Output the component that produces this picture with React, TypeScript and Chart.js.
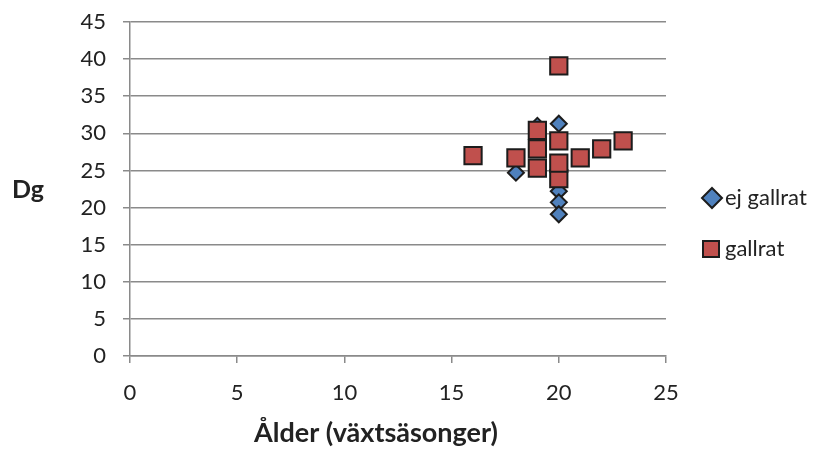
import { useEffect, useRef } from "react";
import { Chart, registerables } from "chart.js";

Chart.register(...registerables);

// Age (growing seasons) and Dg for the two treatments
const ejGallratAge = [18, 19, 20, 20, 20, 20];
const ejGallratDg = [24.7, 31.0, 31.3, 22.2, 20.7, 19.1];
const gallratAge = [16, 18, 19, 19, 19, 20, 20, 20, 20, 21, 22, 23];
const gallratDg = [27.0, 26.7, 30.4, 27.9, 25.3, 39.1, 29.0, 23.9, 26.0, 26.7, 27.9, 29.0];

const seriesNames = ["ej gallrat", "gallrat"];
const xTitle = "Ålder (växtsäsonger)";
const yTitle = "Dg";
const xMin = 0, xMax = 25, xStep = 5;
const yMin = 0, yMax = 45, yStep = 5;

const BLUE = "#4F81BD";
const RED = "#C0504D";
const EDGE = "#1c1c1c";
const GRID = "#8a8a8a";
const TEXT = "#222222";
const FONT = "Lato, 'Open Sans', sans-serif";

const toPoints = (xs: number[], ys: number[]) => xs.map((x, i) => ({ x, y: ys[i] }));

// Horizontal axis titles and the legend on the right
const decorPlugin = {
  id: "decor",
  afterDraw(chart: any) {
    const { ctx, chartArea } = chart;
    ctx.save();
    ctx.fillStyle = TEXT;
    ctx.font = `bold 27px ${FONT}`;
    ctx.textAlign = "center";
    ctx.textBaseline = "alphabetic";
    ctx.fillText(xTitle, (chartArea.left + chartArea.right) / 2 - 22, 442);
    ctx.textAlign = "left";
    ctx.font = `bold 25px ${FONT}`;
    ctx.fillText(yTitle, 12, 198);

    ctx.strokeStyle = EDGE;
    ctx.lineWidth = 2;
    ctx.lineJoin = "miter";

    // diamond key
    const dx = 712, dy = 198, dr = 10;
    ctx.beginPath();
    ctx.moveTo(dx, dy - dr);
    ctx.lineTo(dx + dr, dy);
    ctx.lineTo(dx, dy + dr);
    ctx.lineTo(dx - dr, dy);
    ctx.closePath();
    ctx.fillStyle = BLUE;
    ctx.fill();
    ctx.stroke();

    // square key
    const sx = 711, sy = 249, sh = 8;
    ctx.beginPath();
    ctx.rect(sx - sh, sy - sh, sh * 2, sh * 2);
    ctx.fillStyle = RED;
    ctx.fill();
    ctx.stroke();

    ctx.font = `22px ${FONT}`;
    ctx.textBaseline = "middle";
    ctx.fillStyle = TEXT;
    ctx.fillText(seriesNames[0], 725, dy);
    ctx.fillText(seriesNames[1], 725, sy);
    ctx.restore();
  },
};

export default function App() {
  const ref = useRef<HTMLCanvasElement>(null);

  useEffect(() => {
    document.body.style.margin = "0";
    const canvas = ref.current!;
    const chart = new Chart(canvas, {
      type: "scatter",
      data: {
        datasets: [
          {
            label: seriesNames[0],
            data: toPoints(ejGallratAge, ejGallratDg),
            pointStyle: "rectRot",
            pointRadius: 8,
            pointHoverRadius: 8,
            backgroundColor: BLUE,
            borderColor: EDGE,
            borderWidth: 2,
            order: 2,
          },
          {
            label: seriesNames[1],
            data: toPoints(gallratAge, gallratDg),
            pointStyle: "rect",
            pointRadius: 12.2,
            pointHoverRadius: 12.2,
            backgroundColor: RED,
            borderColor: EDGE,
            borderWidth: 2,
            order: 1,
          },
        ],
      },
      options: {
        responsive: false,
        animation: false,
        events: [],
        layout: { padding: { top: 22, right: 155, left: 0, bottom: 0 } },
        plugins: { legend: { display: false }, tooltip: { enabled: false } },
        scales: {
          x: {
            type: "linear",
            min: xMin,
            max: xMax,
            ticks: { stepSize: xStep, color: TEXT, font: { family: FONT, size: 22 }, padding: 17, maxRotation: 0 },
            grid: { drawOnChartArea: false, drawTicks: true, tickLength: 7, color: GRID, lineWidth: 1.5 },
            border: { color: GRID, width: 1.5 },
            afterFit(scale: any) {
              scale.height = 94;
              scale.paddingLeft = 0;
              scale.paddingRight = 0;
            },
          },
          y: {
            type: "linear",
            min: yMin,
            max: yMax,
            ticks: { stepSize: yStep, color: TEXT, font: { family: FONT, size: 22 }, padding: 17 },
            grid: { drawTicks: true, tickLength: 7, color: GRID, lineWidth: 1.5 },
            border: { color: GRID, width: 1.5 },
            afterFit(scale: any) {
              scale.width = 130;
              scale.paddingTop = 0;
              scale.paddingBottom = 0;
            },
          },
        },
      },
      plugins: [decorPlugin],
    });
    return () => chart.destroy();
  }, []);

  return <canvas ref={ref} width={821} height={450} style={{ display: "block" }} />;
}
